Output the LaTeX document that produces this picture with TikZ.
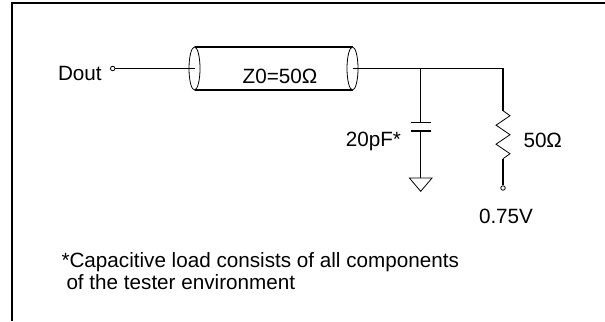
\documentclass[tikz,border=0pt]{standalone}
\usepackage{fontspec}
\setmainfont{Liberation Sans}
\tikzset{every picture/.style={line width=0.75pt}}
\tikzset{
  wire/.style={line width=1pt},
  thin/.style={line width=0.6pt},
  term/.style={circle, draw, fill=white, line width=0.6pt, inner sep=0pt, minimum size=3.4pt},
  lbl/.style={font=\fontsize{15.5}{18}\selectfont, inner sep=0pt},
}

\begin{document}
\begin{tikzpicture}[x=0.75pt,y=0.75pt,yscale=-1,xscale=1]
\useasboundingbox (0,0) rectangle (605,321);

%Frame
\draw [line width=1.5pt] (12,321) -- (12,3) -- (605,3);

%Points of the circuit
\coordinate (cabL) at (194.5,68.5);
\coordinate (cabR) at (352.5,68.5);
\coordinate (jc) at (420.7,68.5);
\coordinate (jr) at (503,68.5);
\coordinate (capT) at (420.7,122.7);
\coordinate (capB) at (420.7,131);
\coordinate (gnd) at (420.7,178);
\coordinate (resT) at (503,110.7);

%Terminals
\node [term] (pin) at (112.7,68.5) {};
\node [term] (vref) at (503,188) {};

%Shape: Cable
\draw [wire] (194.5,47) -- (352.5,47) ;
\draw [wire] (194.5,90) -- (352.5,90) ;
\draw [thin,fill=white] (cabL) ellipse [x radius=5.5, y radius=21.5] ;
\draw [thin,fill=white] (cabR) ellipse [x radius=5.5, y radius=21.5] ;

%Straight Lines
\draw [wire] (pin) -- (cabL) ;
\draw [wire] (cabR) -- (jc) -- (jr) -- (resT) ;

%Capacitor
\draw [wire] (jc) -- (capT) ;
\draw [wire] ([xshift=-7.5]capT) -- ([xshift=7.5]capT) ;
\draw [wire] ([xshift=-7.5]capB) -- ([xshift=7.5]capB) ;
\draw [wire] (capB) -- (gnd) ;
\draw [thin] ([xshift=-8.5]gnd) -- ([xshift=8.5]gnd) -- ([yshift=10]gnd) -- cycle ;

%Resistor
\draw [thin] (resT) -- ++(7,5) -- ++(-14,9.5) -- ++(14,9.5) -- ++(-14,9.5) -- ++(14,9.5) -- ++(-7,5) coordinate (resB) ;
\draw [wire] (resB) -- (vref) ;

% Text Node
\node [lbl, anchor=base west] (dout) at (57.5,80) {Dout};
% Text Node
\node [lbl, anchor=base] (z0) at (280,83) {Z0=50Ω};
% Text Node
\node [lbl, anchor=base east] (cval) at (401.5,146) {20pF*};
% Text Node
\node [lbl, anchor=base west] (rval) at (523,147) {50Ω};
% Text Node
\node [lbl, anchor=base west] (vval) at (478.5,223) {0.75V};
% Text Node
\node [lbl, anchor=base west] (note1) at (61,267.5) {*Capacitive load consists of all components};
\node [lbl, anchor=base west] (note2) at (66,289) {of the tester environment};

\end{tikzpicture}
\end{document}
